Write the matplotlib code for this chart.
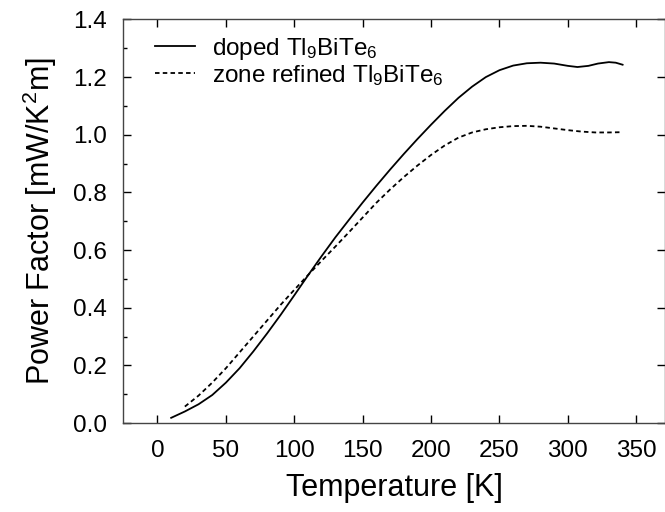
import matplotlib
matplotlib.use("Agg")
import matplotlib.pyplot as plt
from matplotlib.ticker import MultipleLocator

plt.rcParams['font.family'] = ['Liberation Sans', 'DejaVu Sans']
plt.rcParams['mathtext.default'] = 'regular'

# doped Tl9BiTe6
t_doped = [10, 20, 30, 40, 50, 60, 70, 80, 90, 100, 110, 120, 130, 140, 150,
           160, 170, 180, 190, 200, 210, 220, 230, 240, 250, 260, 270, 280,
           290, 300, 307, 315, 322, 330, 335, 340]
pf_doped = [0.018, 0.04, 0.065, 0.097, 0.14, 0.19, 0.248, 0.31, 0.375, 0.443,
            0.512, 0.579, 0.644, 0.705, 0.765, 0.823, 0.879, 0.933, 0.985,
            1.035, 1.083, 1.128, 1.167, 1.2, 1.224, 1.24, 1.248, 1.25, 1.247,
            1.239, 1.235, 1.239, 1.247, 1.252, 1.25, 1.243]

# zone refined Tl9BiTe6
t_zone = [20, 30, 40, 50, 60, 70, 80, 90, 100, 110, 120, 130, 140, 150, 160,
          170, 180, 190, 200, 210, 220, 230, 240, 250, 260, 270, 280, 290,
          300, 310, 320, 330, 340]
pf_zone = [0.057, 0.095, 0.14, 0.19, 0.245, 0.30, 0.355, 0.41, 0.462, 0.513,
           0.563, 0.612, 0.662, 0.713, 0.764, 0.81, 0.853, 0.893, 0.93, 0.963,
           0.99, 1.008, 1.019, 1.026, 1.03, 1.031, 1.028, 1.022, 1.016, 1.011,
           1.008, 1.008, 1.009]


def main():
    fig = plt.figure(figsize=(6.65, 5.12), dpi=100)
    ax = fig.add_axes([0.1854, 0.1738, 0.8146, 0.7882])

    ax.plot(t_doped, pf_doped, color="black", lw=1.3, label="doped Tl$_9$BiTe$_6$")
    ax.plot(t_zone, pf_zone, color="black", lw=1.3, dashes=(2.5, 1.8),
            label="zone refined Tl$_9$BiTe$_6$")

    ax.set_xlim(-25, 371)
    ax.set_ylim(0, 1.4)
    ax.xaxis.set_major_locator(MultipleLocator(50))
    ax.yaxis.set_major_locator(MultipleLocator(0.2))
    ax.yaxis.set_minor_locator(MultipleLocator(0.1))
    ax.yaxis.set_major_formatter(plt.FormatStrFormatter("%.1f"))

    ax.tick_params(axis="both", which="major", direction="in", length=6,
                   width=1, labelsize=17.5, pad=12)
    ax.tick_params(axis="x", top=True)
    ax.tick_params(axis="y", which="minor", direction="in", length=3, width=1)
    ax.tick_params(axis="y", which="major", right=True)
    for s in ax.spines.values():
        s.set_color("#444444")
        s.set_linewidth(1)

    ax.set_xlabel("Temperature [K]", fontsize=22, labelpad=8)
    ax.set_ylabel("Power Factor [mW/K$^2$m]", fontsize=22, labelpad=10)

    ax.legend(loc="upper left", frameon=False, fontsize=17.5, handlelength=1.65,
              handletextpad=0.68, labelspacing=0.05, borderaxespad=0,
              borderpad=0, bbox_to_anchor=(0.059, 0.96))

    fig.savefig("out.png", dpi=100)


if __name__ == "__main__":
    main()
